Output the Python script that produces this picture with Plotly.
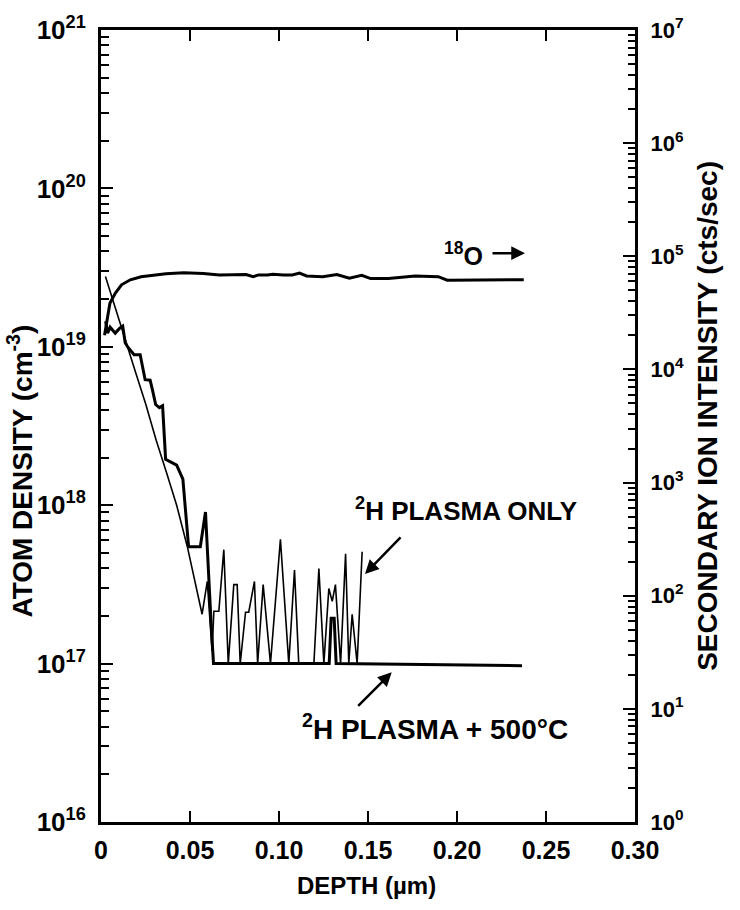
import plotly.graph_objects as go

# Deuterium depth profiles (atoms/cm^3) after the 2H plasma, with and without a 500 C anneal
depth_plasma_only = [0.0025, 0.008, 0.0138, 0.0195, 0.0252, 0.031, 0.0367, 0.0425, 0.0485,
                     0.0568, 0.0597, 0.0624, 0.0634, 0.0662, 0.069, 0.0715, 0.0746, 0.0765,
                     0.0782, 0.0812, 0.083, 0.0862, 0.088, 0.0911, 0.0952, 0.1008, 0.1055,
                     0.1087, 0.1111, 0.1196, 0.1224, 0.1252, 0.128, 0.1299, 0.1317, 0.1346,
                     0.1374, 0.1392, 0.1411, 0.1439, 0.1467]
h2_plasma_only = [2.78e19, 1.75e19, 1.09e19, 6.85e18, 4.32e18, 2.57e18, 1.62e18, 1.0e18, 5.47e17,
                  2.05e17, 3.3e17, 1.2e17, 2.14e17, 2.14e17, 5.24e17, 1e17, 3.15e17, 3.15e17,
                  1e17, 2.11e17, 2.11e17, 3.3e17, 1e17, 3.15e17, 1e17, 6.1e17, 1e17,
                  3.9e17, 1e17, 1e17, 3.98e17, 1e17, 2.98e17, 2.47e17, 3.15e17, 1e17,
                  4.94e17, 1e17, 2.05e17, 1e17, 5.08e17]

depth_plasma_500c = [0.0026, 0.0037, 0.0051, 0.008, 0.0105, 0.0122, 0.0136, 0.015, 0.0186, 0.022,
                     0.0248, 0.0276, 0.029, 0.0307, 0.0328, 0.0346, 0.0363, 0.0393, 0.0425, 0.046,
                     0.0492, 0.0558, 0.0587, 0.0618, 0.0632, 0.1282, 0.1293, 0.131, 0.1321, 0.2365]
h2_plasma_500c = [1.45e19, 1.22e19, 1.33e19, 1.22e19, 1.31e19, 1.35e19, 1.06e19, 9.97e18, 8.9e18, 8.9e18,
                  6.2e18, 6.15e18, 5.29e18, 4.32e18, 4.13e18, 4.24e18, 1.95e18, 1.87e18, 1.79e18, 1.46e18,
                  5.47e17, 5.47e17, 9.06e17, 1.85e17, 1e17, 1e17, 1.93e17, 1.93e17, 1e17, 0.97e17]

# 18O secondary ion intensity (counts/s), read on the right-hand axis
depth_o18 = [0.002, 0.005, 0.008, 0.0115, 0.0165, 0.0225, 0.0295, 0.0365, 0.0465, 0.0515, 0.0575,
             0.0665, 0.0765, 0.0815, 0.0855, 0.0885, 0.0935, 0.0965, 0.1025, 0.1075, 0.1115,
             0.1155, 0.1245, 0.1325, 0.1395, 0.1465, 0.1515, 0.1615, 0.1765, 0.1895, 0.1945,
             0.2085, 0.2185, 0.2375]
o18_counts = [2.0e4, 3.85e4, 4.7e4, 5.6e4, 6.2e4, 6.6e4, 6.8e4, 7.0e4, 7.15e4, 7.15e4, 7.06e4,
              6.85e4, 6.95e4, 6.9e4, 6.6e4, 6.85e4, 6.85e4, 6.95e4, 6.85e4, 6.85e4, 7.1e4,
              6.7e4, 6.6e4, 6.9e4, 6.4e4, 6.8e4, 6.35e4, 6.35e4, 6.7e4, 6.6e4, 6.15e4,
              6.15e4, 6.2e4, 6.2e4]

x_ticks = [0, 0.05, 0.10, 0.15, 0.20, 0.25, 0.30]
x_tick_text = ["0", "0.05", "0.10", "0.15", "0.20", "0.25", "0.30"]
left_exponents = [16, 17, 18, 19, 20, 21]
right_exponents = [0, 1, 2, 3, 4, 5, 6, 7]

SANS = "Liberation Sans, Arial, Helvetica, sans-serif"
INK = "black"


def decade_ticks(exponents):
    vals = [10.0 ** e for e in exponents]
    text = ["10<sup>%d</sup>" % e for e in exponents]
    return vals, text


def minor_ticks(exponents):
    return [m * 10.0 ** e for e in exponents[:-1] for m in range(2, 10)]


left_vals, left_text = decade_ticks(left_exponents)
right_vals, right_text = decade_ticks(right_exponents)

fig = go.Figure()
fig.add_trace(go.Scatter(x=depth_o18, y=o18_counts, yaxis="y2", mode="lines",
                         line=dict(color=INK, width=3), name="18O"))
fig.add_trace(go.Scatter(x=depth_plasma_only, y=h2_plasma_only, mode="lines",
                         line=dict(color=INK, width=1.6), name="2H plasma only"))
fig.add_trace(go.Scatter(x=depth_plasma_500c, y=h2_plasma_500c, mode="lines",
                         line=dict(color=INK, width=3), name="2H plasma + 500C"))

axis_common = dict(showline=True, linewidth=3, linecolor=INK, showgrid=False, zeroline=False,
                   ticks="inside", tickcolor=INK, tickwidth=2)

fig.update_layout(
    width=740, height=910,
    margin=dict(l=101, r=105, t=27, b=88),
    paper_bgcolor="white", plot_bgcolor="white",
    showlegend=False,
    xaxis=dict(range=[0, 0.30], tickmode="array", tickvals=x_ticks, ticktext=x_tick_text,
               ticklen=11, mirror="ticks", ticklabelstandoff=4,
               tickfont=dict(family=SANS, size=25, color=INK, weight="bold"),
               **axis_common),
    yaxis=dict(type="log", range=[16, 21], tickmode="array", tickvals=left_vals, ticktext=left_text,
               ticklen=12, ticklabelstandoff=7,
               minor=dict(ticks="inside", ticklen=8, tickwidth=2, tickcolor=INK,
                          tickmode="array", tickvals=minor_ticks(left_exponents)),
               tickfont=dict(family=SANS, size=26, color=INK, weight="bold"),
               **axis_common),
    yaxis2=dict(type="log", range=[0, 7], overlaying="y", side="right", anchor="x",
                tickmode="array", tickvals=right_vals, ticktext=right_text,
                ticklen=12, ticklabelstandoff=8,
                minor=dict(ticks="inside", ticklen=7, tickwidth=1.5, tickcolor=INK,
                           tickmode="array", tickvals=minor_ticks(right_exponents)),
                tickfont=dict(family=SANS, size=22, color=INK, weight="bold"),
                **axis_common),
)

label_font = dict(family=SANS, size=26, color=INK, weight="bold")
title_font = dict(family=SANS, size=28, color=INK, weight="bold")

annotations = [
    # curve labels
    dict(x=0.472, y=0.395, text="<sup>2</sup>H PLASMA ONLY", xanchor="left", yanchor="middle",
         showarrow=False, font=label_font),
    dict(x=0.3727, y=0.1195, text="<sup>2</sup>H PLASMA + 500°C", xanchor="left", yanchor="middle",
         showarrow=False, font=dict(label_font, size=28)),
    dict(x=0.638, y=0.717, text="<sup>18</sup>O", xanchor="left", yanchor="middle",
         showarrow=False, font=dict(label_font, size=25)),
    # arrows
    dict(x=0.4944, y=0.3132, ax=37, ay=-38, text="", showarrow=True, arrowhead=2,
         arrowsize=1.1, arrowwidth=2.5, arrowcolor=INK),
    dict(x=0.5444, y=0.189, ax=-35, ay=35, text="", showarrow=True, arrowhead=2,
         arrowsize=1.1, arrowwidth=2.5, arrowcolor=INK),
    dict(x=0.794, y=0.7182, ax=-34, ay=0, text="", showarrow=True, arrowhead=2,
         arrowsize=1.1, arrowwidth=2.5, arrowcolor=INK),
    # axis titles
    dict(x=0.498, y=-0.0805, text="DEPTH (µm)", xanchor="center", yanchor="middle",
         showarrow=False, font=dict(title_font, size=24)),
    dict(x=-0.151, y=0.443, text="ATOM DENSITY (cm<sup>-3</sup>)", textangle=-90,
         xanchor="center", yanchor="middle", showarrow=False, font=title_font),
    dict(x=1.137, y=0.513, text="SECONDARY ION INTENSITY (cts/sec)", textangle=-90,
         xanchor="center", yanchor="middle", showarrow=False, font=title_font),
]
for a in annotations:
    a.setdefault("xref", "paper")
    a.setdefault("yref", "paper")
fig.update_layout(annotations=annotations)

fig.write_html("out.html")
